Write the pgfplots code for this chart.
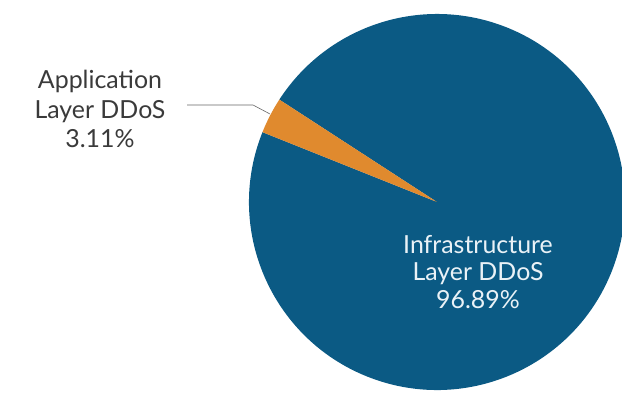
\documentclass[border=0pt]{standalone}
\usepackage{pgfplots}
\pgfplotsset{compat=1.18}
\usepackage{pgfplotstable}
\usepackage{fontspec}
\setmainfont{Lato}
\definecolor{pieblue}{HTML}{0B5A84}
\definecolor{pieorange}{HTML}{E08A2E}
\definecolor{txt}{HTML}{3A3A3A}
\definecolor{intxt}{HTML}{EAF2F7}
\pgfplotstableread{
share
3.11
96.89
}\piedata
\begin{document}
\begin{tikzpicture}
\pgfplotstablegetelem{0}{share}\of\piedata
\let\shareA\pgfplotsretval
\pgfplotstablegetelem{1}{share}\of\piedata
\let\shareB\pgfplotsretval
\pgfmathsetmacro\sA{147}
\pgfmathsetmacro\eA{\sA+3.6*\shareA}
\pgfmathsetmacro\eB{\eA+3.6*\shareB}
\useasboundingbox (0,0) rectangle (622bp,397bp);
\clip (0,0) rectangle (622bp,397bp);
\begin{axis}[at={(0,0)},anchor=south west,
  width=622bp,height=397bp,scale only axis,
  xmin=0,xmax=622,ymin=0,ymax=397,
  hide axis, clip=false]
\fill[pieblue] (axis cs:437,195) -- ++(\eA:188bp) arc[start angle=\eA,end angle=\eB,radius=188bp] -- cycle;
\fill[pieorange] (axis cs:437,195) -- ++(\sA:188bp) arc[start angle=\sA,end angle=\eA,radius=188bp] -- cycle;
\draw[gray!80!black, line width=0.6bp] (axis cs:187,292) -- (axis cs:253,292) -- (axis cs:270,283);
\node[txt, font=\fontsize{25}{30}\selectfont, align=center, anchor=center] at (axis cs:100,288) {Application\\Layer DDoS\\\shareA\%};
\node[intxt, font=\fontsize{25}{28}\selectfont, align=center, anchor=center] at (axis cs:478,125) {Infrastructure\\Layer DDoS\\\shareB\%};
\end{axis}
\end{tikzpicture}
\end{document}
